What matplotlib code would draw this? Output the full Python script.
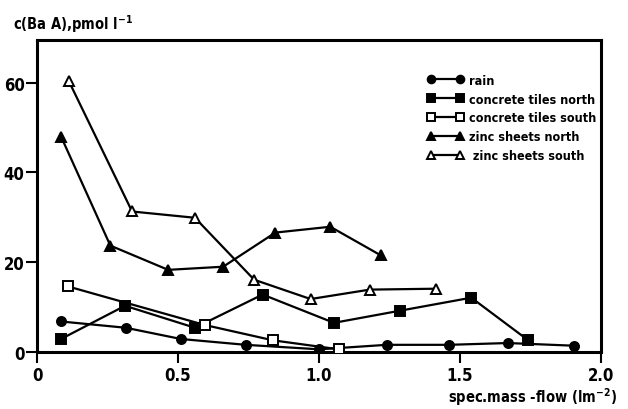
import matplotlib
matplotlib.use("Agg")
import matplotlib.pyplot as plt

plt.rcParams['font.family'] = ['DejaVu Sans']
plt.rcParams['font.stretch'] = 'condensed'
plt.rcParams['font.weight'] = 'bold'
plt.rcParams['mathtext.default'] = 'bf'

# specific mass flow (l m^-2) vs c(Ba A) (pmol l^-1)
rain_x = [0.085, 0.315, 0.51, 0.74, 1.0, 1.24, 1.46, 1.67, 1.905]
rain_y = [6.8, 5.4, 2.9, 1.6, 0.6, 1.6, 1.6, 2.0, 1.4]

ct_north_x = [0.085, 0.312, 0.56, 0.80, 1.053, 1.287, 1.54, 1.74]
ct_north_y = [2.9, 10.3, 5.4, 12.8, 6.5, 9.2, 12.1, 2.7]

ct_south_x = [0.11, 0.596, 0.837, 1.07]
ct_south_y = [14.6, 6.0, 2.6, 0.6]

zn_north_x = [0.085, 0.26, 0.465, 0.66, 0.845, 1.04, 1.22]
zn_north_y = [48.0, 23.7, 18.3, 19.0, 26.6, 27.9, 21.5]

zn_south_x = [0.113, 0.337, 0.56, 0.77, 0.97, 1.18, 1.415]
zn_south_y = [60.3, 31.3, 29.9, 16.1, 11.8, 13.9, 14.1]

fig = plt.figure(figsize=(6.28, 4.10), dpi=100)
ax = fig.add_axes([0.059, 0.139, 0.898, 0.761])

kw = dict(color='black', lw=1.6, ms=6.5, mew=1.4, zorder=3)
ax.plot(rain_x, rain_y, marker='o', label='rain', **kw)
ax.plot(ct_north_x, ct_north_y, marker='s', label='concrete tiles north', **kw)
ax.plot(ct_south_x, ct_south_y, marker='s', mfc='white', label='concrete tiles south', **kw)
ax.plot(zn_north_x, zn_north_y, marker='^', label='zinc sheets north', **kw)
ax.plot(zn_south_x, zn_south_y, marker='^', mfc='white', label=' zinc sheets south', **kw)

ax.set_xlim(0, 2.0)
ax.set_ylim(0, 69.5)
ax.set_xticks([0, 0.5, 1.0, 1.5, 2.0])
ax.set_xticklabels(['0', '0.5', '1.0', '1.5', '2.0'])
ax.set_yticks([0, 20, 40, 60])
for s in ax.spines.values():
    s.set_linewidth(2.2)
ax.tick_params(direction='out', length=8, width=1.5, labelsize=12, pad=1)
ax.tick_params(axis='x', pad=2)

fig.text(0.02, 0.927, 'c(Ba A),pmol l$^{-1}$', fontsize=10.5, ha='left', va='baseline')
fig.text(0.982, 0.004, 'spec.mass -flow (lm$^{-2}$)', fontsize=10.5, ha='right', va='bottom')

leg = ax.legend(loc='upper left', bbox_to_anchor=(0.672, 0.928), frameon=False,
                numpoints=2, handlelength=2.9, handletextpad=0.45,
                labelspacing=0.47, fontsize=9, markerscale=0.85)
leg.set_zorder(5)

fig.savefig('out.png', dpi=100)
